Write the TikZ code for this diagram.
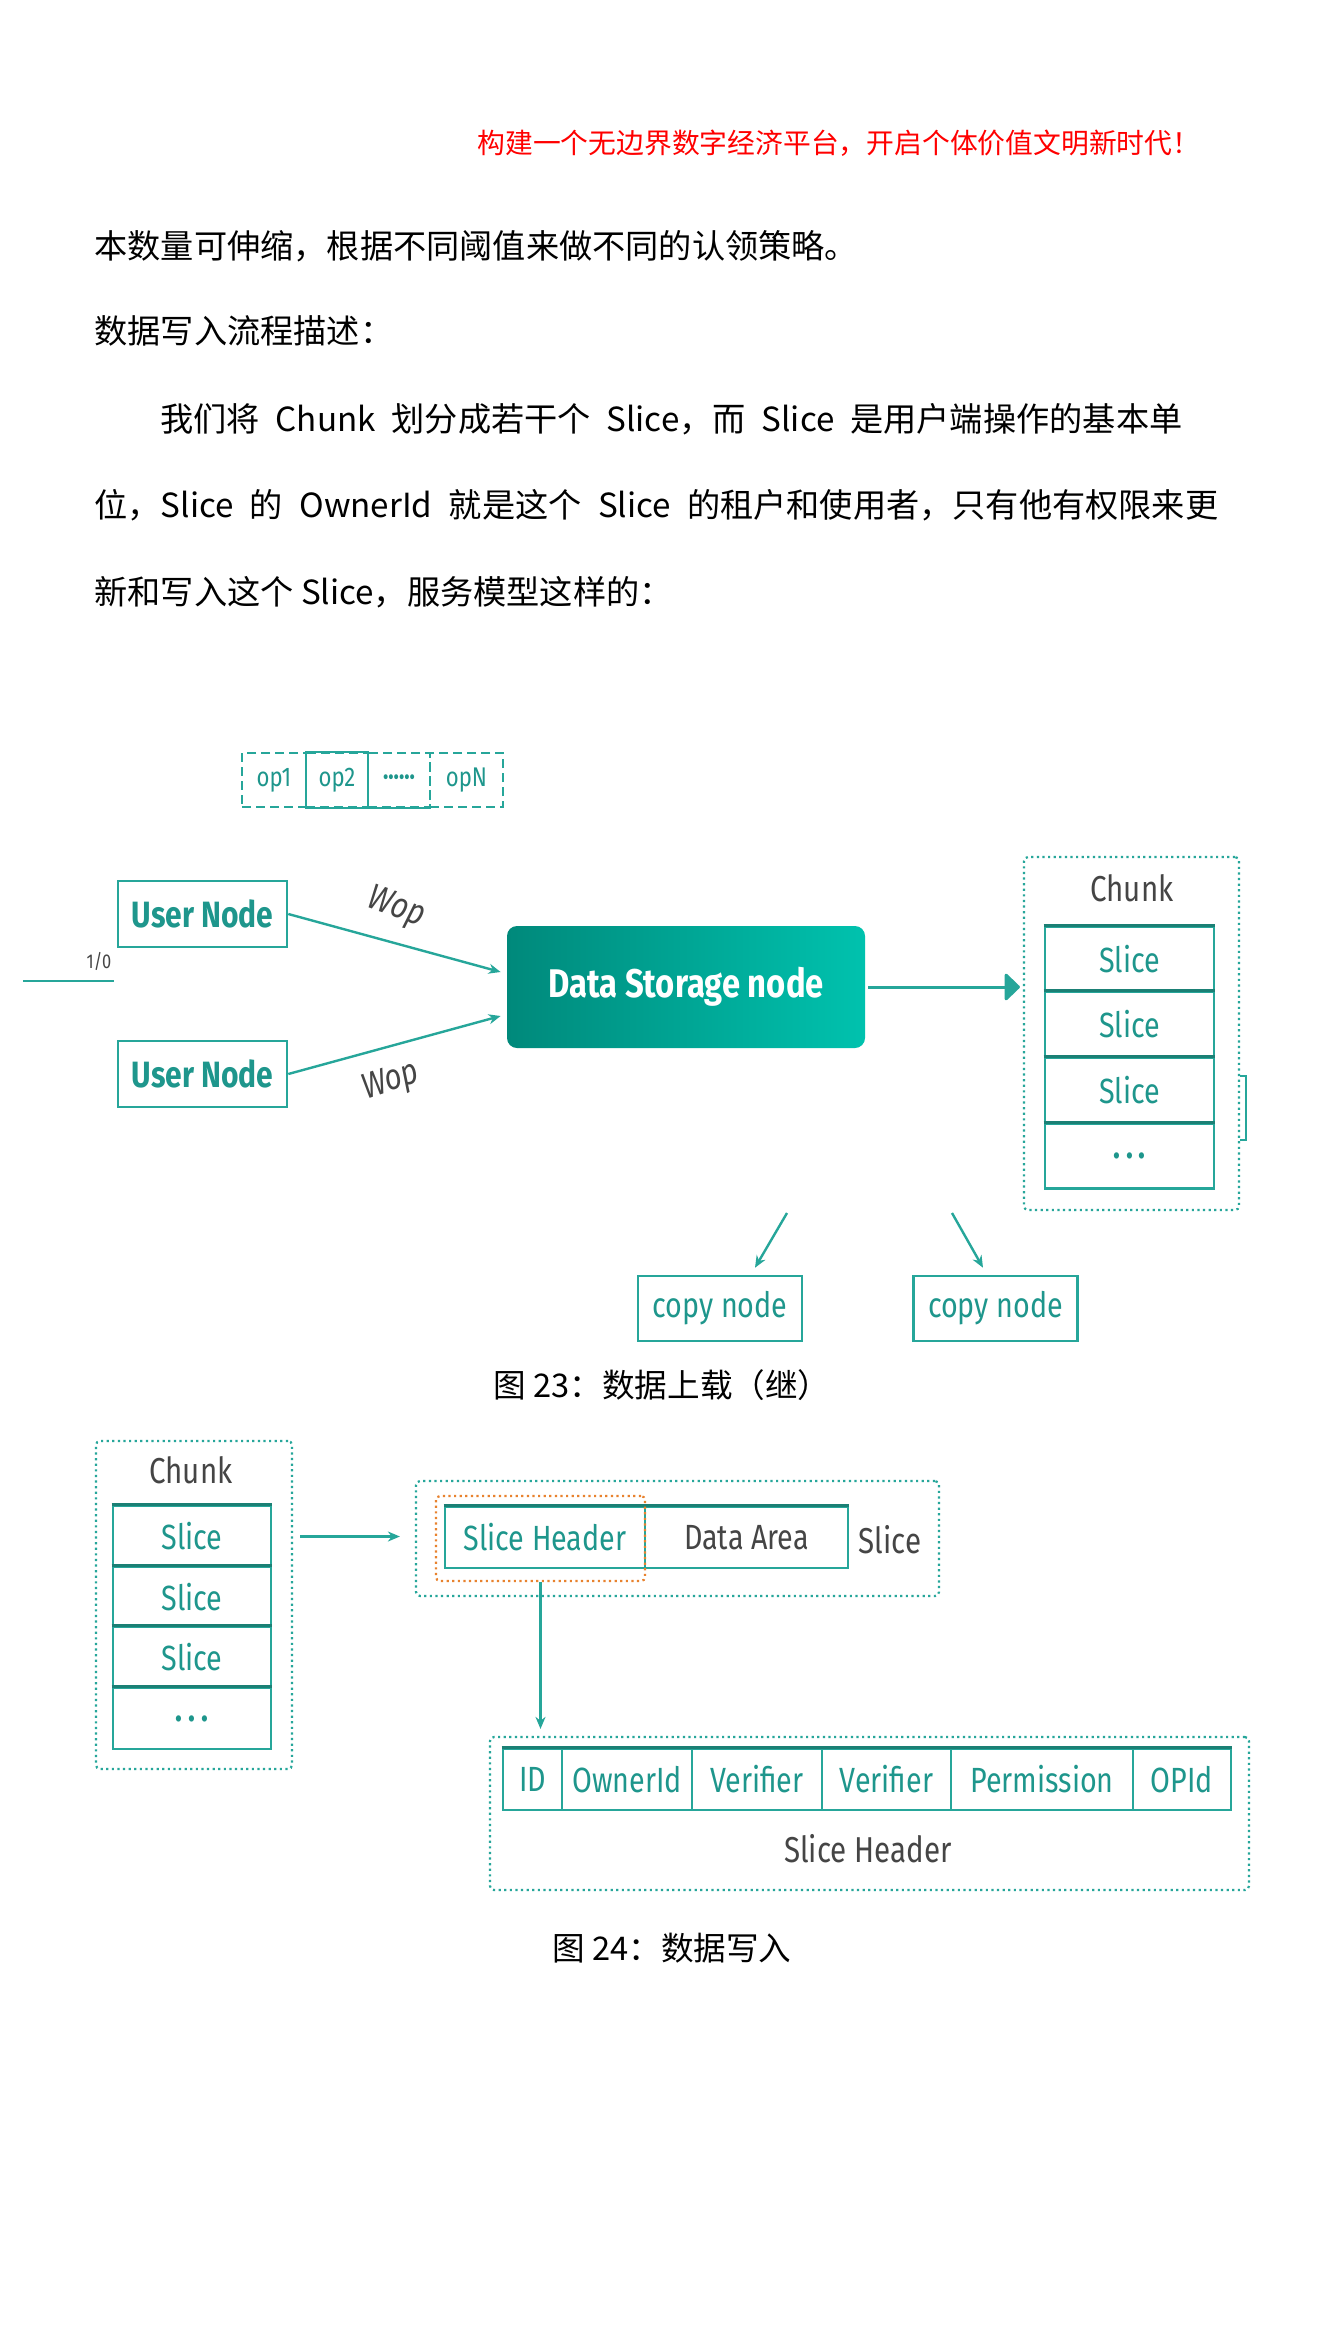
\documentclass[tikz,border=0pt]{standalone}
\usepackage{fontspec}
\setmainfont{Noto Sans CJK SC}
\newfontfamily\cond[FakeStretch=0.82]{Fira Sans}
\usetikzlibrary{arrows.meta,positioning,calc}
\definecolor{tealline}{HTML}{26A69A}
\definecolor{tealdark}{HTML}{1B8075}
\definecolor{tealtext}{HTML}{1E968C}
\definecolor{labelgray}{HTML}{454545}
\definecolor{dsnleft}{HTML}{00897B}
\definecolor{dsnright}{HTML}{00C2AE}
\definecolor{orangedot}{HTML}{E8822E}
\tikzset{
  box/.style={draw=tealline, line width=1.3pt, fill=white, inner sep=0pt, text=tealtext,
    font=\cond\fontsize{17.5}{18}\selectfont},
  dotbox/.style={draw=tealline, line width=1.1pt, dash pattern=on 1.1pt off 1.7pt,
    rounded corners=2pt, inner sep=0pt},
  opbox/.style={draw=tealline, line width=1.1pt, dash pattern=on 4.5pt off 2.5pt, inner sep=0pt,
    minimum height=27pt, text=tealtext, font=\cond\fontsize{13.5}{14}\selectfont},
  link/.style={draw=tealline, line width=1.2pt, -{Stealth[length=6pt,width=5pt]}},
  para/.style={anchor=west, inner sep=0pt, font=\fontsize{16.6}{18}\selectfont},
  graylabel/.style={inner sep=0pt, text=labelgray, font=\cond\fontsize{18}{19}\selectfont},
}
\begin{document}
\begin{tikzpicture}[x=0.5pt,y=-0.5pt]
  \useasboundingbox[fill=white] (0,0) rectangle (1342,2338);
  % text above the figures
  \node[anchor=west, inner sep=0pt, text=red, font=\fontsize{13.9}{15}\selectfont] (motto) at (477,143) {构建一个无边界数字经济平台，开启个体价值文明新时代！};
  \node[para] (p1) at (94,246) {本数量可伸缩，根据不同阈值来做不同的认领策略。};
  \node[para] (p2) at (94,331) {数据写入流程描述：};
  \node[para] (p3) at (160,419) {\makebox[511pt][s]{我们将 Chunk 划分成若干个 Slice，而 Slice 是用户端操作的基本单}};
  \node[para] (p4) at (94,505) {\makebox[562pt][s]{位，Slice 的 OwnerId 就是这个 Slice 的租户和使用者，只有他有权限来更}};
  \node[para] (p5) at (94,592) {新和写入这个 Slice，服务模型这样的：};

  % figure 23
  \node[opbox, minimum width=32pt] (op1) at (274,780) {op1};
  \node[opbox, minimum width=31pt] (op2) at (337,780) {op2};
  \node[opbox, minimum width=31pt] (opd) at (399,780) {\textbf{······}};
  \node[opbox, minimum width=36.5pt] (opn) at (466.5,780) {opN};
  \draw[tealline, line width=1.1pt] (op2.north west) -- (op2.north east);
  \draw[tealline, line width=1.1pt] (op2.south west) -- (opd.south east);

  \coordinate (io1) at (23,981);
  \coordinate (io2) at (114,981);
  \draw[tealline, line width=1.3pt] (io1) -- (io2);
  \node[inner sep=0pt, text=labelgray, font=\cond\fontsize{10}{10}\selectfont] (iolabel) at (99,961) {1/0};

  \node[box, minimum width=84.5pt, minimum height=33pt, font=\cond\bfseries\fontsize{18.3}{19}\selectfont] (un1) at (202.5,914) {User Node};
  \node[box, minimum width=84.5pt, minimum height=33pt, font=\cond\bfseries\fontsize{18.3}{19}\selectfont] (un2) at (202.5,1074) {User Node};

  \node[rounded corners=5pt, left color=dsnleft, right color=dsnright, minimum width=179pt, minimum height=61pt,
    inner sep=0pt, text=white, font=\cond\bfseries\fontsize{20}{21}\selectfont] (dsn) at (686,987) {Data Storage node};

  \draw[link] (un1.east) -- ([xshift=-3pt,yshift=7.5pt]dsn.west);
  \draw[link] (un2.east) -- ([xshift=-3pt,yshift=-14.5pt]dsn.west);
  \node[graylabel, font=\cond\itshape\fontsize{18}{19}\selectfont, rotate=-20] (wop1) at (396,908) {Wop};
  \node[graylabel, font=\cond\itshape\fontsize{18}{19}\selectfont, rotate=18] (wop2) at (391,1082) {Wop};

  \node[dotbox, minimum width=107.5pt, minimum height=176.5pt] (chunk1) at (1131.5,1033.5) {};
  \node[graylabel] (chunklabel1) at (1132,888) {Chunk};
  \foreach \cy/\t [count=\i] in {959.5/Slice, 1024.5/Slice, 1090/Slice, 1156/{\textbf{.\,.\,.}}} {
    \node[box, minimum width=84.5pt, minimum height=32.5pt] (cs\i) at (1129.5,\cy) {\t};
    \draw[tealdark, line width=1.6pt] (cs\i.north west) -- (cs\i.north east);
  }
  \draw[tealline, line width=0.6pt] (1240,1076) -- (1246,1076) -- (1246,1140) -- (1240,1140);
  \draw[tealline, line width=1.5pt, -{Triangle[length=8pt,width=15pt,round]}] ([xshift=1.5pt]dsn.east) -- ([xshift=-1.5pt]dsn.east -| chunk1.west);

  \node[box, minimum width=82pt, minimum height=32.5pt] (cp1) at (720,1308.5) {copy node};
  \node[box, minimum width=82pt, minimum height=32.5pt] (cp2) at (995.5,1308.5) {copy node};
  \coordinate (from1) at (787,1213);
  \coordinate (from2) at (952,1213);
  \draw[link] (from1) -- ([xshift=17.5pt,yshift=3.5pt]cp1.north);
  \draw[link] (from2) -- ([xshift=-6.25pt,yshift=3.5pt]cp2.north);

  \node[inner sep=0pt, font=\fontsize{16.3}{18}\selectfont] (cap23) at (662,1385) {图 23：数据上载（继）};

  % figure 24
  \node[dotbox, minimum width=98pt, minimum height=164pt] (chunk2) at (194,1605) {};
  \node[graylabel] (chunklabel2) at (191,1470) {Chunk};
  \foreach \cy/\t [count=\i] in {1536.5/Slice, 1597/Slice, 1657.5/Slice, 1718.5/{\textbf{.\,.\,.}}} {
    \node[box, minimum width=79pt, minimum height=30.5pt] (ds\i) at (192,\cy) {\t};
    \draw[tealdark, line width=1.6pt] (ds\i.north west) -- (ds\i.north east);
  }

  \node[dotbox, minimum width=261.5pt, minimum height=57.5pt] (slice) at (677.5,1538.5) {};
  \node[box, minimum width=100pt, minimum height=30.5pt] (hdr) at (545,1537.5) {Slice Header};
  \node[box, minimum width=101.5pt, minimum height=30.5pt, text=labelgray] (area) at (746.5,1537.5) {Data Area};
  \draw[tealdark, line width=1.6pt] (hdr.north west) -- (area.north east);
  \node[dotbox, draw=orangedot, minimum width=104.5pt, minimum height=42.5pt] (hdrmark) at (540.5,1538.5) {};
  \node[graylabel] (slicelabel) at (890,1540) {Slice};
  \draw[link] ([xshift=3.5pt]ds1.east -| chunk2.east) -- ([xshift=-7.5pt]ds1.east -| slice.west);

  \node[dotbox, minimum width=379.5pt, minimum height=76.5pt] (shbox) at (869.5,1813.5) {};
  \foreach \cx/\w/\t [count=\i] in {532.5/29.5/ID, 627/65/OwnerId, 757/65/Verifier, 886.5/64.5/Verifier, 1042/91/Permission, 1182/49/OPId} {
    \node[box, minimum width=\w pt, minimum height=30.5pt] (f\i) at (\cx,1779.5) {\t};
  }
  \draw[tealdark, line width=1.6pt] (f1.north west) -- (f6.north east);
  \node[graylabel] (shlabel) at (868,1849) {Slice Header};
  \draw[link, shorten >=3.5pt] (hdrmark.south) -- (hdrmark.south |- shbox.north);

  \node[inner sep=0pt, font=\fontsize{16.3}{18}\selectfont] (cap24) at (672,1948) {图 24：数据写入};
\end{tikzpicture}
\end{document}
